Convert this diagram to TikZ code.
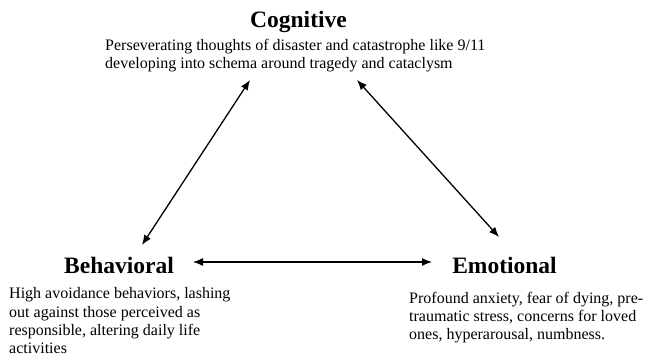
\documentclass[tikz,border=0pt]{standalone}
\usepackage{fontspec}
\setmainfont{Liberation Serif}
\usetikzlibrary{arrows.meta}

\tikzset{
  heading/.style={font=\fontsize{23.5}{26}\selectfont\bfseries, inner sep=0pt, anchor=base},
  bodytext/.style={font=\fontsize{16}{18.4}\selectfont, inner sep=0pt, anchor=base west, align=left},
  biarrow/.style={{Latex[length=10pt,width=8pt]}-{Latex[length=10pt,width=8pt]}, line width=1.3pt}
}

\begin{document}
\begin{tikzpicture}[x=1pt,y=-1pt]
      \useasboundingbox (0,0) rectangle (646,358);

      % the three headings
      \node[heading] (cog) at (298.5,28) {Cognitive};
      \node[heading] (beh) at (119,274) {Behavioral};
      \node[heading] (emo) at (504.5,274) {Emotional};

      % what each one stands for (placed at the last line)
      \node[bodytext] (cogtxt) at (105,68.5)
        {Perseverating thoughts of disaster and catastrophe like 9/11\\
         developing into schema around tragedy and cataclysm};
      \node[bodytext] (behtxt) at (9,354)
        {High avoidance behaviors, lashing\\
         out against those perceived as\\
         responsible, altering daily life\\
         activities};
      \node[bodytext] (emotxt) at (409,340)
        {Profound anxiety, fear of dying, pre-\\
         traumatic stress, concerns for loved\\
         ones, hyperarousal, numbness.};

      % arrow ends
      \coordinate (cogL) at (250,80);
      \coordinate (cogR) at (357,80);
      \coordinate (behT) at (142,245);
      \coordinate (behR) at (193,262);
      \coordinate (emoT) at (499,237);
      \coordinate (emoL) at (432,262);

      \draw[biarrow] (cogL) -- (behT);
      \draw[biarrow] (cogR) -- (emoT);
      \draw[biarrow] (behR) -- (emoL);
    \end{tikzpicture}
\end{document}
